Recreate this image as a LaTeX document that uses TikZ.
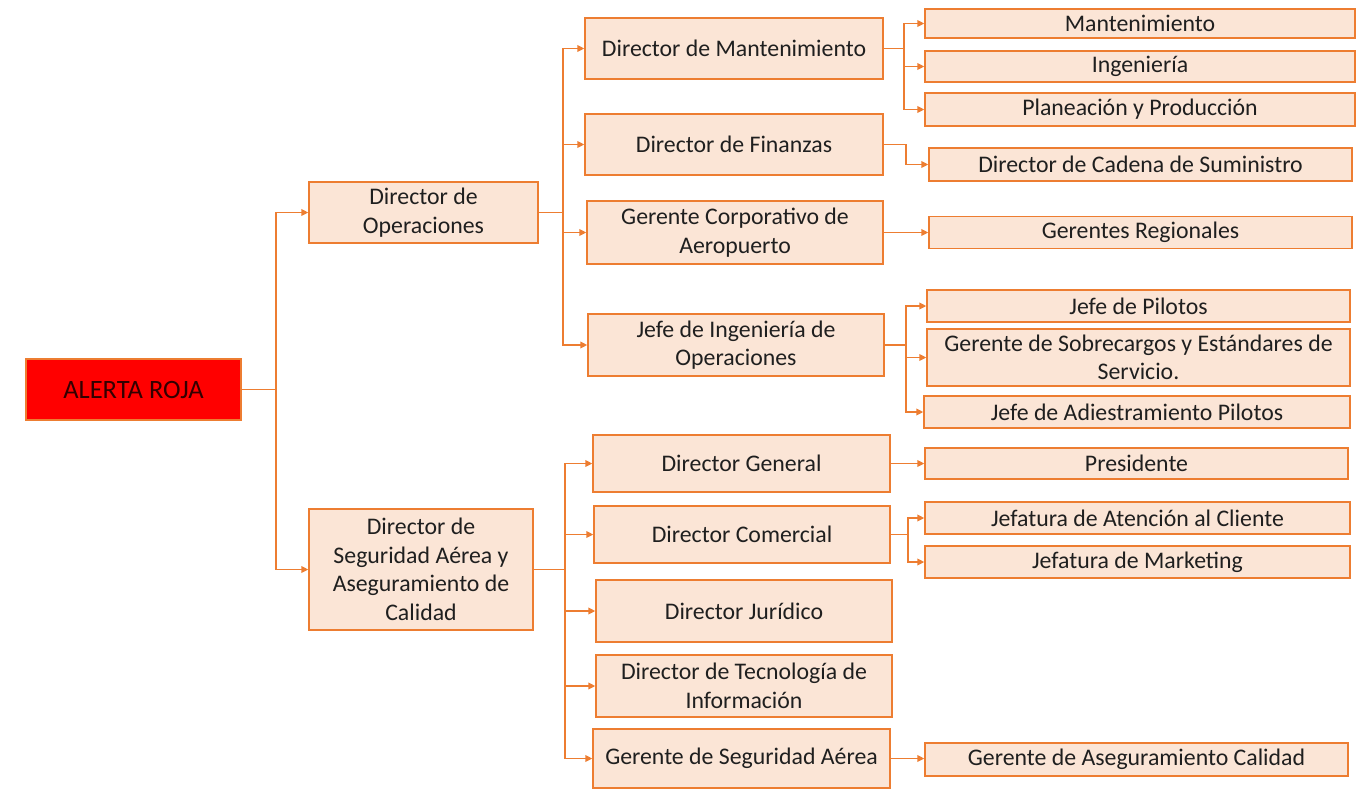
\documentclass[tikz,border=0pt]{standalone}
\usepackage{fontspec}
\setmainfont{Carlito}
\usetikzlibrary{arrows.meta}
\definecolor{boxfill}{HTML}{FBE5D6}
\definecolor{boxline}{HTML}{ED7D31}
\definecolor{txt}{HTML}{1F1F1F}
\begin{document}
\begin{tikzpicture}[x=1pt,y=-1pt,
  box/.style={draw=boxline,fill=boxfill,line width=1.3pt,inner sep=0pt,align=center,text=txt,
    font=\fontsize{23.8}{28.5}\selectfont},
  red/.style={box,fill=red,text=black!80!red,font=\fontsize{26.5}{30}\selectfont},
  arr/.style={draw=boxline,line width=1.7pt,-{Triangle[length=7pt,width=6.5pt]}},
]
\useasboundingbox (0,0) rectangle (1356,789);
\newcommand{\bx}[6][box]{\node[#1,minimum width=#4,minimum height=#5] (#2) at #3 {#6};}
\bx[red]{alerta}{(133.5,389.5)}{215}{61}{ALERTA ROJA}
\bx{dop}{(423.5,212.5)}{229}{61}{Director de\\Operaciones}
\bx{dsa}{(421,569.5)}{224}{121}{Director de\\Seguridad Aérea y\\Aseguramiento de\\Calidad}
\bx{dm}{(734,48.5)}{298}{61}{Director de Mantenimiento}
\bx{df}{(734,144.5)}{298}{61}{Director de Finanzas}
\bx{gca}{(735,232.5)}{296}{63}{Gerente Corporativo de\\Aeropuerto}
\bx{jio}{(736,345)}{296}{62}{Jefe de Ingeniería de\\Operaciones}
\bx{mant}{(1140,23.5)}{430}{29}{Mantenimiento}
\bx{ing}{(1140,66.5)}{430}{31}{Ingeniería}
\bx{pyp}{(1140,109.5)}{430}{33}{Planeación y Producción}
\bx{dcs}{(1140.5,164.5)}{423}{33}{Director de Cadena de Suministro}
\bx{gr}{(1140.5,232.5)}{423}{32}{Gerentes Regionales}
\bx{jp}{(1138.5,306)}{423}{32}{Jefe de Pilotos}
\bx{gsse}{(1138.5,357.5)}{423}{57}{Gerente de Sobrecargos y Estándares de\\Servicio.}
\bx{jap}{(1137,412)}{426}{32}{Jefe de Adiestramiento Pilotos}
\bx{dg}{(741.5,463.5)}{297}{57}{Director General}
\bx{dc}{(742,534.5)}{296}{57}{Director Comercial}
\bx{dj}{(744,611)}{296}{62}{Director Jurídico}
\bx{dti}{(744,686)}{296}{62}{Director de Tecnología de\\Información}
\bx{gsa}{(741.5,758.5)}{297}{59}{Gerente de Seguridad Aérea}
\bx{pres}{(1136.5,463.5)}{423}{31}{Presidente}
\bx{jac}{(1137.5,518)}{425}{32}{Jefatura de Atención al Cliente}
\bx{jm}{(1137.5,562)}{425}{32}{Jefatura de Marketing}
\bx{gac}{(1136.5,759.5)}{423}{33}{Gerente de Aseguramiento Calidad}
% connectors
\foreach \t in {dop,dsa} \draw[arr] (alerta.east) -- ++(34,0) |- (\t.west);
\foreach \t in {dm,df,gca,jio} \draw[arr] (dop.east) -- ++(24,0) |- (\t.west);
\foreach \t in {dg,dc,dj,dti,gsa} \draw[arr] (dsa.east) -- ++(31,0) |- (\t.west);
\foreach \t in {mant,ing,pyp} \draw[arr] (dm.east) -- ++(20,0) |- (\t.west);
\draw[arr] (df.east) -- ++(22,0) |- (dcs.west);
\draw[arr] (gca.east) -- (gca.east -| gr.west);
\foreach \t in {jp,gsse,jap} \draw[arr] (jio.east) -- ++(21,0) |- (\t.west);
\draw[arr] (dg.east) -- (dg.east -| pres.west);
\foreach \t in {jac,jm} \draw[arr] (dc.east) -- ++(17,0) |- (\t.west);
\draw[arr] (gsa.east) -- (gsa.east -| gac.west);
\end{tikzpicture}
\end{document}
